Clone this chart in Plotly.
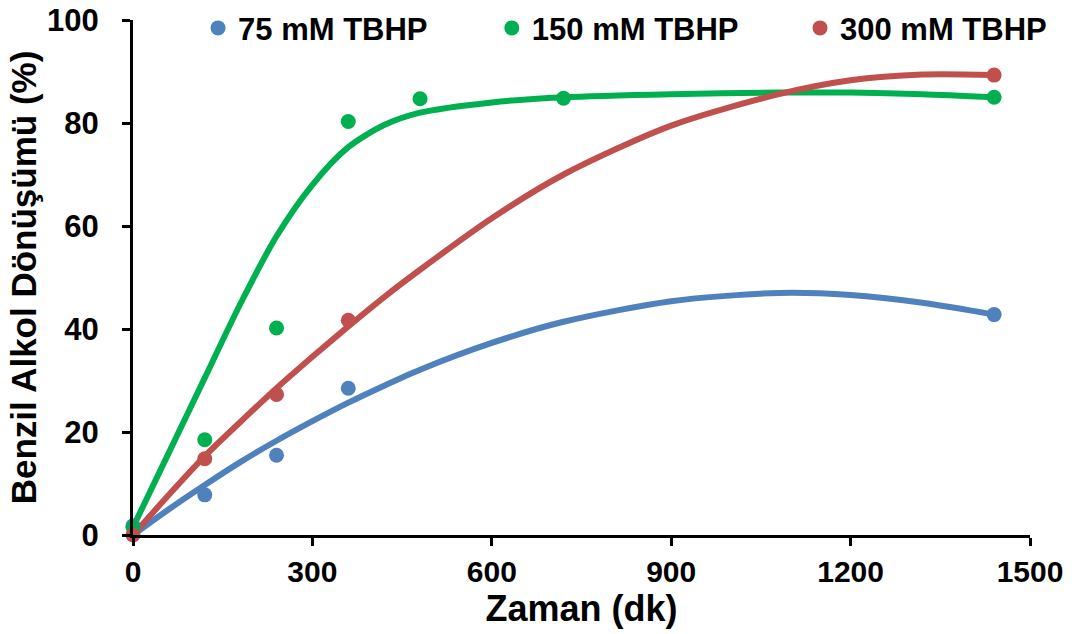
import plotly.graph_objects as go

# Measured data points
t75 = [0, 120, 240, 360, 1440]
y75 = [1.8, 7.8, 15.5, 28.5, 42.8]
t150 = [0, 120, 240, 360, 480, 720, 1440]
y150 = [1.5, 18.5, 40.2, 80.3, 84.7, 84.8, 85.0]
t300 = [0, 120, 240, 360, 1440]
y300 = [0.0, 14.8, 27.3, 41.7, 89.3]

# Trend curves
curve_t = [0, 60, 120, 180, 240, 300, 360, 420, 480, 600, 720, 900, 1080, 1200, 1320, 1440]
curve75 = [0, 5.0, 9.7, 14.2, 18.3, 22.1, 25.7, 29.0, 32.1, 37.3, 41.4, 45.4, 47.0, 46.6, 45.1, 42.8]
curve150 = [1.5, 16.0, 30.5, 45.0, 58.0, 68.0, 75.3, 79.6, 82.0, 84.0, 85.0, 85.6, 85.9, 85.9, 85.6, 85.0]
curve300 = [0, 7.8, 15.3, 22.0, 28.5, 34.6, 40.5, 46.2, 51.5, 61.5, 70.0, 79.5, 85.6, 88.3, 89.4, 89.3]

names = ["75 mM TBHP", "150 mM TBHP", "300 mM TBHP"]
colors = ["#4F81BD", "#00B050", "#C0504D"]
legend_ids = ["legend", "legend2", "legend3"]
legend_x = [0.0725, 0.400, 0.7436]

FONT = "Liberation Sans, Arial, sans-serif"

fig = go.Figure()
for cy, col in [(curve75, colors[0]), (curve150, colors[1]), (curve300, colors[2])]:
    fig.add_trace(go.Scatter(x=curve_t, y=cy, mode="lines",
                             line=dict(color=col, width=6, shape="spline", smoothing=0.8),
                             showlegend=False, hoverinfo="skip", cliponaxis=False))
for tx, ty, nm, col, lg in [(t75, y75, names[0], colors[0], legend_ids[0]),
                            (t150, y150, names[1], colors[1], legend_ids[1]),
                            (t300, y300, names[2], colors[2], legend_ids[2])]:
    fig.add_trace(go.Scatter(x=tx, y=ty, mode="markers", name=nm, legend=lg,
                             marker=dict(color=col, size=15, symbol="circle"), cliponaxis=False))

legend_style = dict(orientation="h", xanchor="left", y=0.984, yanchor="middle",
                    font=dict(size=31, family=FONT, color="black", weight="bold"),
                    itemwidth=30, bgcolor="rgba(0,0,0,0)")

fig.update_layout(
    width=1074, height=634,
    margin=dict(l=133, r=44, t=20, b=99, autoexpand=False),
    paper_bgcolor="white", plot_bgcolor="white",
    font=dict(family=FONT, color="black"),
    legend=dict(x=legend_x[0], **legend_style),
    legend2=dict(x=legend_x[1], **legend_style),
    legend3=dict(x=legend_x[2], **legend_style),
    xaxis=dict(range=[0, 1500], tickvals=[0, 300, 600, 900, 1200, 1500],
               ticks="outside", ticklen=8, tickwidth=3, tickcolor="black",
               showline=True, linewidth=3, linecolor="black", showgrid=False, zeroline=False,
               automargin=False, ticklabelstandoff=0,
               tickfont=dict(size=30, family=FONT, weight="bold"),
               title=dict(text="Zaman (dk)", font=dict(size=36, family=FONT, weight="bold"), standoff=2)),
    yaxis=dict(range=[0, 100], tickvals=[0, 20, 40, 60, 80, 100],
               ticks="outside", ticklen=8, tickwidth=3, tickcolor="black",
               showline=True, linewidth=3, linecolor="black", showgrid=False, zeroline=False,
               automargin=False, ticklabelstandoff=17,
               tickfont=dict(size=31, family=FONT, weight="bold"),
               title=dict(text="Benzil Alkol Dönüşümü (%)", font=dict(size=35, family=FONT, weight="bold"), standoff=0)),
)

fig.write_html("out.html", config={"displayModeBar": False},
               post_script="document.body.style.margin='0px';")
